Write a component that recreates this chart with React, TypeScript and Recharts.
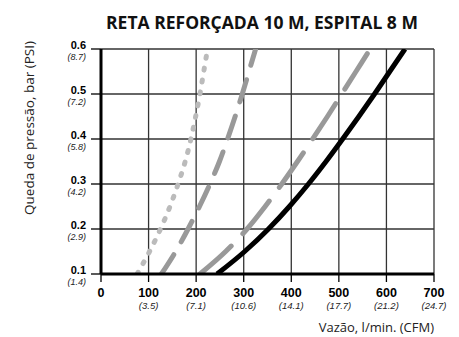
import { LineChart, Line, XAxis, YAxis, CartesianGrid, Label } from "recharts";

const pressureTicks = [0.1, 0.2, 0.3, 0.4, 0.5, 0.6];
const psiLabels = ["(1.4)", "(2.9)", "(4.2)", "(5.8)", "(7.2)", "(8.7)"];
const flowTicks = [0, 100, 200, 300, 400, 500, 600, 700];
const cfmLabels = ["", "(3.5)", "(7.1)", "(10.6)", "(14.1)", "(17.7)", "(21.2)", "(24.7)"];

// pressure steps (bar) at which the curves were read
const pressures = [0.1, 0.15, 0.2, 0.25, 0.3, 0.35, 0.4, 0.45, 0.5, 0.55, 0.6];
// flow (l/min) at each pressure step
const flowDotted = [76, 102, 125, 145, 162, 177, 189, 199, 208, 216, 224];
const flowLongDash = [127, 157, 183, 207, 229, 249, 266, 282, 297, 311, 325];
const flowDash = [208, 262, 307, 345, 380, 413, 445, 476, 506, 536, 566];
const flowSolid = [244, 302, 352, 396, 436, 473, 508, 542, 575, 607, 639];

const toPoints = (flows: number[]) => flows.map((x, i) => ({ x, y: pressures[i] }));

const tickFont = "'Liberation Sans', Arial, sans-serif";
const textFont = "'Open Sans', sans-serif";

// eslint-disable-next-line @typescript-eslint/no-explicit-any
const YTick = ({ x, y, payload }: any) => {
  const i = pressureTicks.findIndex((p) => Math.abs(p - payload.value) < 1e-6);
  return (
    <g fontFamily={tickFont}>
      <text x={x - 3} y={y} textAnchor="end" fontSize={11} fontWeight="bold" fill="#000">
        {payload.value.toFixed(1)}
      </text>
      <text x={x - 3} y={y + 11} textAnchor="end" fontSize={9} fontStyle="italic" fill="#222">
        {psiLabels[i]}
      </text>
    </g>
  );
};

// eslint-disable-next-line @typescript-eslint/no-explicit-any
const XTick = ({ x, y, payload }: any) => {
  const i = flowTicks.indexOf(payload.value);
  return (
    <g fontFamily={tickFont}>
      <text x={x} y={y + 13} textAnchor="middle" fontSize={12.5} fontWeight="bold" fill="#000">
        {payload.value}
      </text>
      <text x={x} y={y + 25} textAnchor="middle" fontSize={9.5} fontStyle="italic" fill="#222">
        {cfmLabels[i]}
      </text>
    </g>
  );
};

export default function App() {
  return (
    <div style={{ margin: "-8px 0 0 -8px", width: 459, height: 337, background: "#fff" }}>
      <LineChart width={459} height={337} margin={{ top: 49, right: 25, bottom: 23, left: 0 }}>
        <CartesianGrid stroke="#333" strokeWidth={1.3} />
        <XAxis
          type="number"
          dataKey="x"
          domain={[0, 700]}
          ticks={flowTicks}
          height={40}
          tickSize={8}
          tick={<XTick />}
          axisLine={{ stroke: "#000", strokeWidth: 3 }}
          tickLine={{ stroke: "#000", strokeWidth: 1.3 }}
          allowDataOverflow
        >
          <Label
            content={() => (
              <text x={434} y={332} textAnchor="end" fontSize={13} fontFamily={textFont} fill="#222">
                Vazão, l/min. (CFM)
              </text>
            )}
          />
        </XAxis>
        <YAxis
          type="number"
          dataKey="y"
          domain={[0.1, 0.6]}
          ticks={pressureTicks}
          width={101}
          tickSize={10}
          tick={<YTick />}
          axisLine={{ stroke: "#000", strokeWidth: 3 }}
          tickLine={{ stroke: "#000", strokeWidth: 1.3 }}
          allowDataOverflow
        >
          <Label
            content={() => (
              <g>
                <text
                  x={0}
                  y={0}
                  transform="translate(34 128) rotate(-90)"
                  textAnchor="middle"
                  fontSize={13.5}
                  fontFamily={textFont}
                  fill="#222"
                >
                  Queda de pressão, bar (PSI)
                </text>
                <text
                  x={262}
                  y={29}
                  textAnchor="middle"
                  fontSize={17.5}
                  fontWeight="bold"
                  fontFamily={textFont}
                  fill="#111"
                >
                  RETA REFORÇADA 10 M, ESPITAL 8 M
                </text>
              </g>
            )}
          />
        </YAxis>
        <Line
          data={toPoints(flowDotted)}
          dataKey="y"
          type="monotone"
          stroke="#bbbbbb"
          strokeWidth={5}
          strokeDasharray="2 10"
          strokeLinecap="round"
          dot={false}
          isAnimationActive={false}
        />
        <Line
          data={toPoints(flowLongDash)}
          dataKey="y"
          type="monotone"
          stroke="#999999"
          strokeWidth={5}
          strokeDasharray="23 15"
          strokeLinecap="round"
          dot={false}
          isAnimationActive={false}
        />
        <Line
          data={toPoints(flowDash)}
          dataKey="y"
          type="monotone"
          stroke="#999999"
          strokeWidth={5}
          strokeDasharray="42 17"
          strokeLinecap="round"
          dot={false}
          isAnimationActive={false}
        />
        <Line
          data={toPoints(flowSolid)}
          dataKey="y"
          type="monotone"
          stroke="#000"
          strokeWidth={5}
          dot={false}
          isAnimationActive={false}
        />
      </LineChart>
    </div>
  );
}
